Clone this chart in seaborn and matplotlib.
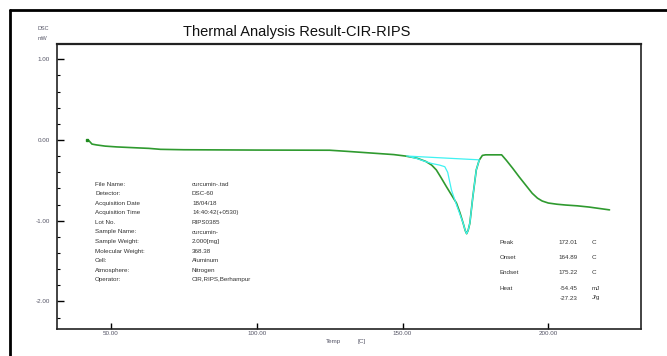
import matplotlib
matplotlib.use("Agg")
import matplotlib.pyplot as plt
from matplotlib.lines import Line2D
from matplotlib.ticker import MultipleLocator, FormatStrFormatter
import numpy as np
import pandas as pd
import seaborn as sns

# DSC trace (temperature in C, heat flow in mW)
temp = [41.8, 42.5, 43.5, 45, 48, 52, 58, 63, 67, 75, 100, 125, 131, 137,
        143, 147, 151, 155, 158, 160, 161.6, 163.3, 165.1, 166.8, 168.5,
        169.7, 170.8, 171.5, 172.0, 172.5, 173.1, 174.1, 175.3, 176.3, 177.4,
        178.5, 184, 185.6, 187.8, 190.1, 192.3, 194.5, 196.3, 197.9, 200,
        203, 206, 210, 214, 218, 221]
dsc = [0.0, -0.01, -0.05, -0.06, -0.075, -0.085, -0.095, -0.103, -0.115,
       -0.12, -0.124, -0.126, -0.14, -0.155, -0.17, -0.18, -0.198, -0.225,
       -0.265, -0.31, -0.37, -0.47, -0.58, -0.68, -0.78, -0.9, -1.03, -1.12,
       -1.16, -1.12, -1.03, -0.71, -0.37, -0.25, -0.19, -0.183, -0.183,
       -0.25, -0.35, -0.46, -0.56, -0.66, -0.72, -0.755, -0.78, -0.795,
       -0.805, -0.815, -0.83, -0.85, -0.865]

# Peak analysis construction
peak_temp = [152.4, 155, 158.2, 160, 162.7, 164.5, 165.5, 166.8, 168.5,
             169.7, 170.8, 171.5, 172.0, 172.5, 173.1, 174.1, 175.3, 176.3]
peak_dsc = [-0.205, -0.23, -0.27, -0.29, -0.31, -0.33, -0.40, -0.62, -0.80,
            -0.92, -1.03, -1.12, -1.16, -1.12, -1.03, -0.71, -0.37, -0.25]
base_temp = [151.4, 176.3]
base_dsc = [-0.198, -0.245]

info_keys = ["File Name:", "Detector:", "Acquisition Date", "Acquisition Time",
             "Lot No.", "Sample Name:", "Sample Weight:", "Molecular Weight:",
             "Cell:", "Atmosphere:", "Operator:"]
info_vals = ["curcumin-.tad", "DSC-60", "18/04/18", "14:40:42(+0530)",
             "RIPS0385", "curcumin-", "2.000[mg]", "368.38", "Aluminum",
             "Nitrogen", "CIR,RIPS,Berhampur"]

res_keys = ["Peak", "Onset", "Endset", "Heat", ""]
res_vals = ["172.01", "164.89", "175.22", "-54.45", "-27.23"]
res_units = ["C", "C", "C", "mJ", "J/g"]

sns.set_style("white")
plt.rcParams["font.family"] = ["Liberation Sans", "DejaVu Sans"]

W, H = 667, 356
fig = plt.figure(figsize=(W / 100, H / 100), dpi=100)
ax = fig.add_axes([57 / W, 1 - 328.7 / H, (641 - 57) / W, (328.7 - 44) / H])

trace = pd.DataFrame({"Temp": temp, "DSC": dsc})
peak = pd.DataFrame({"Temp": peak_temp, "DSC": peak_dsc})
base = pd.DataFrame({"Temp": base_temp, "DSC": base_dsc})

sns.lineplot(data=trace, x="Temp", y="DSC", ax=ax, color="#2f9a2f",
             linewidth=1.2, sort=False, estimator=None)
sns.lineplot(data=base, x="Temp", y="DSC", ax=ax, color="#3ff2f2",
             linewidth=0.9, sort=False, estimator=None)
sns.lineplot(data=peak, x="Temp", y="DSC", ax=ax, color="#3ff2f2",
             linewidth=0.9, sort=False, estimator=None)
ax.plot(temp[0], dsc[0], marker="s", ms=1.6, color="#1f8a1f")

ax.set_xlim(31.5, 231.8)
ax.set_ylim(-2.337, 1.19)
ax.set_xlabel("")
ax.set_ylabel("")
ax.xaxis.set_major_locator(MultipleLocator(50))
ax.yaxis.set_major_locator(MultipleLocator(1))
ax.yaxis.set_minor_locator(MultipleLocator(0.2))
ax.xaxis.set_major_formatter(FormatStrFormatter("%.2f"))
ax.yaxis.set_major_formatter(FormatStrFormatter("%.2f"))
ax.tick_params(axis="both", which="major", direction="in", length=4,
               width=1, labelsize=4.5, labelcolor="#555566", color="black",
               pad=2, left=True, bottom=True)
ax.tick_params(axis="y", which="minor", direction="in", length=2, width=0.8,
               color="black", left=True)
ax.tick_params(axis="y", which="major", length=5, pad=5)
for s in ax.spines.values():
    s.set_color("#222222")
    s.set_linewidth(1.2)
ax.spines["top"].set_linewidth(1.6)

# Outer frame
fig.add_artist(Line2D([10 / W, 10 / W], [0, 1 - 10 / H], color="black",
                      lw=2.0, transform=fig.transFigure))
fig.add_artist(Line2D([10 / W, 1], [1 - 10 / H, 1 - 10 / H], color="black",
                      lw=2.0, transform=fig.transFigure))

fig.text(297 / W, 1 - 32 / H, "Thermal Analysis Result-CIR-RIPS",
         ha="center", va="center", fontsize=10.5, color="#111111")
fig.text(43 / W, 1 - 29 / H, "DSC", ha="center", va="center", fontsize=4,
         color="#555566")
fig.text(43 / W, 1 - 38 / H, "mW", ha="center", va="center", fontsize=4,
         color="#555566")
fig.text(333 / W, 1 - 342 / H, "Temp", ha="center", va="center",
         fontsize=4.5, color="#555566")
fig.text(362 / W, 1 - 342 / H, "[C]", ha="center", va="center",
         fontsize=4.5, color="#555566")

row_y = [184, 193.6, 203.2, 212.8, 222.4, 232, 241.6, 251.2, 260.8, 270.4, 280]
for k, v, yy in zip(info_keys, info_vals, row_y):
    fig.text(95 / W, 1 - yy / H, k, ha="left", va="center", fontsize=4.5,
             color="#333333")
    fig.text(192 / W, 1 - yy / H, v, ha="left", va="center", fontsize=4.5,
             color="#333333")

res_y = [242, 257.5, 272.5, 288, 298]
for k, v, u, yy in zip(res_keys, res_vals, res_units, res_y):
    fig.text(500 / W, 1 - yy / H, k, ha="left", va="center", fontsize=4.5,
             color="#333333")
    fig.text(578 / W, 1 - yy / H, v, ha="right", va="center", fontsize=4.5,
             color="#333333")
    fig.text(592 / W, 1 - yy / H, u, ha="left", va="center", fontsize=4.5,
             color="#333333")

fig.savefig("out.png", dpi=100)
